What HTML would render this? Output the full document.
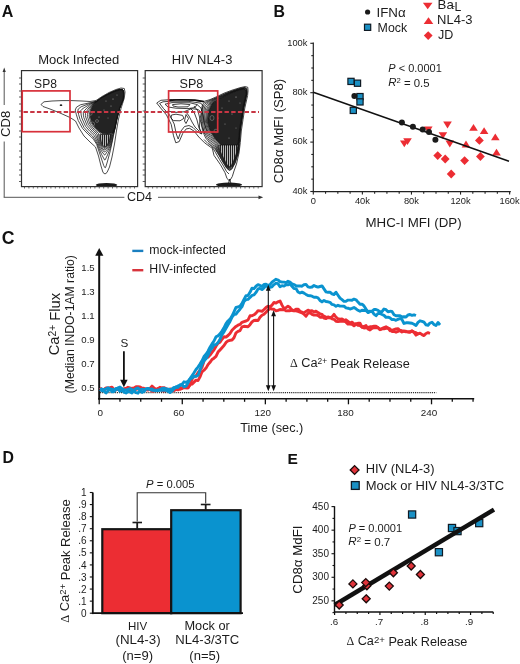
<!DOCTYPE html>
<html><head><meta charset="utf-8"><style>
html,body{margin:0;padding:0;background:#fff;}
svg{display:block;font-family:"Liberation Sans", sans-serif;will-change:transform;}
</style></head><body>
<svg width="520" height="664" viewBox="0 0 520 664">
<defs><pattern id="vl" width="2" height="6" patternUnits="userSpaceOnUse"><rect width="2" height="6" fill="#b8b8b8"/><rect width="1" height="6" fill="#1e1e1e"/></pattern></defs>
<rect width="520" height="664" fill="#fff"/>
<path d="M41.0,104.5 L44.0,101.8 L52.0,101.0 L62.0,100.6 L72.0,100.6 L82.0,101.0 L90.0,101.5 L96.0,100.5 L102.0,96.5 L109.0,92.5 L116.0,89.5 L121.0,88.0 L124.3,88.5 L125.0,92.0 L124.3,98.0 L121.0,108.5 L118.3,120.0 L116.3,132.0 L114.5,144.0 L112.0,157.0 L109.5,167.0 L107.0,172.5 L105.0,174.0 L103.0,172.5 L101.0,166.0 L98.5,156.0 L95.5,147.0 L90.0,142.0 L84.0,136.0 L79.0,128.0 L75.5,121.0 L70.0,117.5 L60.0,113.0 L50.0,109.0 L43.0,106.5 Z" fill="none" stroke="#111" stroke-width="0.75"/>
<path d="M104.6,147.5 L107.0,146.0 L107.4,145.5 L109.8,140.0 L110.7,134.8 L110.2,133.8 L112.6,132.5 L114.5,127.8 L116.3,119.2 L118.9,109.0 L122.5,99.8 L123.3,93.8 L122.8,90.9 L122.0,90.2 L119.8,90.2 L115.0,91.6 L108.2,94.5 L102.0,98.0 L98.5,100.5 L92.9,105.2 L90.3,110.0 L89.0,116.0 L91.1,123.2 L95.9,129.5 L100.4,133.2 L100.4,133.5 L99.8,134.5 L99.9,138.8 L101.6,144.5 L103.9,147.2 L104.6,147.5 Z" fill="none" stroke="#111" stroke-width="0.75"/>
<path d="M104.9,148.5 L107.8,146.0 L110.1,140.2 L111.1,134.0 L112.8,132.7 L114.6,128.0 L116.4,119.2 L119.1,108.8 L122.5,100.0 L123.0,97.8 L123.4,94.0 L123.3,92.5 L122.8,90.6 L122.0,90.0 L119.8,90.0 L114.7,91.5 L108.0,94.5 L100.2,99.0 L92.2,105.2 L89.3,109.5 L87.4,114.2 L87.4,116.5 L89.9,124.0 L95.0,130.4 L98.5,133.4 L99.2,139.2 L101.1,145.0 L103.7,148.2 L104.2,148.6 L104.9,148.5 Z" fill="none" stroke="#111" stroke-width="0.75"/>
<path d="M105.2,149.8 L108.3,146.5 L110.5,140.5 L111.7,134.2 L113.1,132.8 L114.7,128.0 L116.5,119.2 L119.1,109.0 L122.7,99.8 L123.5,93.8 L123.0,90.8 L122.5,90.1 L122.0,89.9 L119.8,89.9 L114.8,91.4 L108.0,94.4 L102.0,97.7 L97.0,101.4 L91.9,104.8 L87.9,109.2 L85.5,113.2 L85.4,115.5 L85.7,117.0 L88.5,124.6 L94.0,131.2 L97.0,133.9 L98.3,139.5 L100.5,145.5 L103.2,149.3 L104.2,149.9 L105.2,149.8 Z" fill="none" stroke="#111" stroke-width="0.75"/>
<path d="M105.1,151.8 L106.5,150.3 L108.5,147.6 L109.1,146.5 L111.0,140.5 L112.2,134.5 L113.3,133.0 L114.9,128.0 L116.7,119.2 L119.3,108.8 L122.8,99.9 L123.6,93.8 L123.3,91.2 L122.8,90.2 L122.2,89.8 L119.8,89.8 L114.7,91.2 L109.5,93.5 L102.8,97.2 L100.2,98.8 L97.0,101.3 L91.1,104.5 L86.1,108.8 L83.3,112.0 L83.4,115.2 L83.8,117.5 L87.1,125.5 L92.9,132.2 L95.5,134.5 L100.1,146.5 L103.0,150.8 L104.2,151.8 L105.1,151.8 Z" fill="none" stroke="#111" stroke-width="0.75"/>
<path d="M105.1,154.8 L108.1,150.2 L109.8,146.8 L111.6,140.5 L112.6,135.0 L113.6,133.0 L115.0,128.0 L116.7,119.5 L119.4,108.8 L122.8,100.0 L123.7,93.8 L123.4,91.2 L123.0,90.2 L122.2,89.6 L119.8,89.6 L117.5,90.1 L109.5,93.4 L102.0,97.5 L96.8,101.3 L91.0,103.7 L84.2,107.7 L82.0,109.2 L80.7,110.8 L81.2,115.0 L81.8,118.0 L85.5,126.3 L90.0,131.4 L94.2,135.5 L98.0,143.3 L99.2,146.8 L101.6,151.2 L104.2,154.7 L104.8,155.0 L105.1,154.8 Z" fill="none" stroke="#111" stroke-width="0.75"/>
<path d="M105.2,159.8 L107.5,155.0 L110.3,148.0 L112.2,140.5 L113.0,135.8 L115.1,128.0 L116.8,119.5 L119.4,109.0 L122.9,100.0 L123.6,96.0 L123.8,92.0 L123.1,90.2 L122.2,89.4 L119.8,89.5 L117.5,89.9 L110.8,92.6 L102.0,97.4 L96.8,101.2 L89.5,103.5 L81.1,106.8 L78.5,108.8 L77.9,110.0 L78.6,114.5 L80.0,119.2 L84.0,127.5 L88.8,132.8 L92.4,136.0 L94.4,138.8 L97.3,144.0 L98.5,147.5 L101.6,154.5 L104.5,159.8 L104.8,160.0 L105.2,159.8 Z" fill="none" stroke="#111" stroke-width="0.75"/>
<path d="M105.3,167.8 L105.7,167.2 L107.3,162.0 L110.3,150.8 L116.9,119.5 L119.5,109.1 L123.1,99.8 L123.7,96.0 L123.9,92.0 L123.1,90.0 L122.2,89.2 L117.5,89.8 L110.5,92.6 L102.8,96.9 L96.8,101.0 L90.2,102.7 L80.4,104.8 L76.5,107.2 L75.2,110.0 L76.4,114.8 L78.2,120.5 L82.6,128.5 L87.9,134.0 L91.3,137.0 L93.4,139.2 L96.6,144.2 L103.7,165.5 L104.8,167.6 L105.0,167.8 L105.3,167.8 Z" fill="none" stroke="#111" stroke-width="0.75"/>
<path d="M93.0,105.5 L100.0,98.8 L108.0,94.5 L115.0,91.5 L120.0,90.0 L122.8,90.3 L123.6,94.0 L122.8,100.0 L119.5,108.0 L116.5,119.0 L114.5,128.0 L112.5,132.5 L108.0,134.0 L102.0,133.5 L96.5,129.0 L92.0,123.0 L90.0,116.0 L91.0,110.0 Z" fill="#232323" stroke="#111" stroke-width="0.75" stroke-linejoin="round"/>
<path d="M100.5,134.5 L110.5,134.5 L109.5,140.0 L107.0,145.5 L104.5,147.0 L102.0,144.5 L100.5,139.0 Z" fill="url(#vl)" stroke="#111" stroke-width="0.75" stroke-linejoin="round"/>
<path d="M156.7,103.0 L160.8,100.3 L172.3,99.5 L189.6,99.8 L203.5,101.5 L210.0,99.6 L216.0,97.0 L224.0,93.2 L232.0,90.2 L240.0,87.7 L245.0,86.6 L247.8,87.3 L248.0,91.0 L247.6,95.5 L244.8,108.0 L243.0,119.5 L241.3,131.0 L240.3,142.5 L239.0,153.0 L236.5,164.0 L234.0,171.0 L232.3,176.5 L229.6,181.0 L227.0,178.5 L225.0,172.7 L220.4,164.6 L214.0,155.4 L212.3,148.3 L210.4,147.0 L204.6,142.8 L198.8,137.0 L194.2,131.2 L189.6,128.3 L186.2,128.9 L182.7,133.5 L179.2,141.6 L175.8,142.8 L173.5,135.8 L171.2,124.3 L166.5,115.0 L160.8,108.2 Z" fill="none" stroke="#111" stroke-width="0.8"/>
<path d="M186.0,114.5 L188.5,118.5 L186.0,123.5 L184.5,121.0 Z" fill="none" stroke="#111" stroke-width="0.8"/>
<path d="M171.5,115.0 L176.0,114.2 L182.5,115.4 L184.0,118.3 L180.0,120.8 L173.5,120.6 L171.0,118.0 Z" fill="none" stroke="#111" stroke-width="0.8"/>
<path d="M168.0,111.2 L176.0,112.4 L184.0,111.8 L191.5,108.6 L198.0,109.5 L200.5,111.5" fill="none" stroke="#111" stroke-width="0.8"/>
<path d="M172.5,104.6 L181.0,103.8 L190.0,104.6 L188.0,106.8 L178.0,107.0 L173.0,106.0 Z" fill="none" stroke="#111" stroke-width="0.8"/>
<path d="M165.0,104.2 L172.0,102.6 L190.0,102.8 L197.0,104.5 L195.0,107.5 L188.0,108.6 L176.0,108.2 L168.0,107.0 Z" fill="none" stroke="#111" stroke-width="0.8"/>
<path d="M159.6,103.4 L163.0,101.8 L172.0,101.2 L189.0,101.4 L201.0,103.2 L203.0,106.0 L201.5,112.0 L199.8,120.0 L199.5,128.0 L201.5,134.0 L197.0,131.5 L193.0,127.5 L189.0,125.5 L184.5,126.5 L181.0,131.0 L178.2,139.0 L176.3,134.0 L174.2,124.0 L169.5,114.8 L163.5,108.5 Z" fill="none" stroke="#111" stroke-width="0.8"/>
<path d="M229.1,167.0 L231.0,166.2 L231.4,165.8 L234.1,160.2 L236.7,152.8 L237.9,145.2 L237.4,144.2 L238.4,141.5 L239.4,130.0 L242.4,110.0 L243.1,105.8 L245.8,94.2 L245.8,91.0 L244.0,89.0 L238.0,90.4 L229.5,93.7 L221.3,97.8 L218.2,99.8 L212.5,103.1 L211.8,103.8 L209.1,108.5 L208.1,111.2 L207.2,121.8 L209.4,130.2 L215.2,139.5 L219.3,144.0 L218.6,145.0 L219.3,150.2 L225.8,163.0 L228.2,166.9 L228.5,167.1 L229.1,167.0 Z" fill="none" stroke="#111" stroke-width="0.75"/>
<path d="M229.8,167.2 L231.2,166.4 L232.3,164.5 L234.4,160.2 L236.9,153.0 L238.2,145.2 L237.7,144.2 L238.6,141.5 L239.6,130.2 L242.6,110.0 L243.3,105.8 L246.0,94.2 L246.0,90.9 L245.2,89.8 L244.0,88.8 L237.9,90.2 L229.5,93.4 L221.2,97.4 L218.0,99.5 L212.2,102.8 L211.3,103.5 L208.4,107.8 L207.2,111.0 L206.4,122.0 L208.5,130.5 L210.8,134.5 L214.4,140.0 L217.8,143.8 L217.8,145.0 L218.8,150.2 L225.4,163.0 L228.1,167.2 L228.8,167.5 L229.8,167.2 Z" fill="none" stroke="#111" stroke-width="0.75"/>
<path d="M229.9,167.8 L231.7,166.5 L233.9,162.2 L237.2,153.0 L238.4,145.2 L238.1,144.0 L238.7,141.8 L239.7,130.5 L242.7,110.2 L243.5,105.8 L246.2,94.2 L246.2,90.8 L245.4,89.5 L244.2,88.6 L237.8,90.1 L229.5,93.2 L221.0,97.1 L211.8,102.3 L210.9,103.0 L207.5,107.0 L206.3,110.5 L205.5,122.0 L207.6,131.0 L209.8,135.0 L211.3,137.2 L213.8,140.8 L216.6,144.0 L218.4,150.5 L225.2,163.2 L228.0,167.6 L228.8,167.9 L229.9,167.8 Z" fill="none" stroke="#111" stroke-width="0.75"/>
<path d="M230.2,168.2 L231.9,166.8 L234.2,162.5 L237.5,153.0 L238.6,145.2 L238.4,143.8 L238.9,141.8 L239.8,130.8 L240.9,123.8 L243.4,107.5 L246.3,94.5 L246.3,90.5 L245.7,89.2 L244.5,88.3 L242.0,88.7 L237.8,89.8 L229.5,92.8 L222.5,96.0 L211.2,101.9 L206.5,106.2 L205.8,107.5 L205.2,110.2 L204.7,116.0 L204.6,122.2 L206.0,129.8 L206.6,131.5 L209.0,136.0 L212.8,141.2 L215.4,144.2 L217.9,150.8 L224.8,163.2 L227.4,167.5 L228.8,168.4 L230.2,168.2 Z" fill="none" stroke="#111" stroke-width="0.75"/>
<path d="M230.0,169.0 L231.0,168.5 L232.0,167.4 L234.6,162.5 L237.8,153.0 L238.9,145.2 L238.8,143.8 L239.4,139.5 L240.0,130.8 L241.0,123.8 L243.5,107.8 L246.5,94.5 L246.7,91.2 L246.3,89.5 L246.0,88.9 L244.5,88.0 L240.6,88.8 L237.2,89.7 L229.5,92.5 L222.5,95.5 L210.6,101.5 L205.4,105.2 L204.6,107.0 L204.0,110.0 L203.4,121.0 L204.8,130.0 L205.6,132.0 L207.8,136.5 L212.0,142.1 L214.2,144.5 L215.8,147.2 L217.3,150.8 L224.5,163.5 L227.1,167.8 L228.5,168.8 L229.5,169.1 L230.0,169.0 Z" fill="none" stroke="#111" stroke-width="0.75"/>
<path d="M230.0,169.8 L231.8,168.6 L235.0,162.8 L238.2,153.0 L239.1,145.2 L239.0,143.5 L239.6,139.5 L240.2,131.0 L241.2,124.0 L243.7,107.8 L246.6,94.8 L246.8,93.0 L246.8,90.8 L246.5,88.8 L244.8,87.8 L240.5,88.5 L237.2,89.5 L229.8,92.1 L222.5,95.1 L210.2,100.9 L204.8,103.8 L204.2,104.5 L203.1,107.0 L202.5,113.0 L202.3,121.0 L203.6,130.2 L204.3,132.2 L206.7,137.2 L211.0,142.8 L213.0,144.9 L215.1,148.0 L223.0,161.8 L226.8,167.9 L228.2,169.3 L229.5,169.9 L230.0,169.8 Z" fill="none" stroke="#111" stroke-width="0.75"/>
<path d="M230.1,170.2 L231.9,169.0 L235.2,163.0 L238.4,153.0 L239.8,139.5 L240.3,131.0 L240.8,127.5 L243.8,108.0 L247.0,93.0 L246.8,88.5 L245.0,87.6 L244.2,87.6 L240.5,88.3 L231.5,91.2 L224.2,94.0 L215.0,98.3 L204.0,102.8 L203.2,103.5 L202.0,106.3 L201.4,112.8 L201.4,121.5 L202.5,130.8 L204.8,136.1 L205.7,138.0 L210.1,143.5 L214.6,148.5 L219.1,155.5 L222.8,162.0 L226.6,168.2 L229.2,170.4 L230.1,170.2 Z" fill="none" stroke="#111" stroke-width="0.75"/>
<path d="M212.3,103.6 L218.0,100.2 L221.5,97.8 L229.6,93.8 L238.0,90.5 L244.0,89.0 L245.8,91.0 L245.8,94.4 L242.9,107.0 L241.2,118.6 L239.4,130.2 L238.3,141.7 L236.5,146.0 L222.0,146.0 L215.8,139.4 L210.0,130.2 L207.7,122.0 L208.8,110.5 Z" fill="#232323" stroke="#111" stroke-width="0.75" stroke-linejoin="round"/>
<path d="M219.0,145.0 L238.0,145.0 L236.5,153.0 L234.0,160.0 L231.0,166.0 L228.5,167.0 L226.0,163.0 L222.5,156.0 L219.5,150.0 Z" fill="url(#vl)" stroke="#111" stroke-width="0.75" stroke-linejoin="round"/>
<path d="M190,108 L194,112 L197,120 L199,128 L202,134" fill="none" stroke="#111" stroke-width="0.8"/>
<path d="M194,106 L198,111 L200,119 L202,127 L205,134" fill="none" stroke="#111" stroke-width="0.8"/>
<path d="M186,112 L189,116 L192,122 L195,127 L199,131" fill="none" stroke="#111" stroke-width="0.8"/>
<path d="M197,104.5 L201,108 L203,115 L204.5,124 L207,131" fill="none" stroke="#111" stroke-width="0.8"/>
<path d="M204,139.5 L208,143.5 L212,146.5 L215.5,152.5 L219.5,159.5 L223.5,166 L226.5,171.5 L229,174" fill="none" stroke="#111" stroke-width="0.8"/>
<path d="M168,100.4 L180,99.8 L195,100.1 L204,101.6" fill="none" stroke="#111" stroke-width="1.6"/>
<ellipse cx="106.5" cy="185.0" rx="10.8" ry="2.0" fill="#1b1b1b"/>
<ellipse cx="229" cy="184.8" rx="13" ry="2.2" fill="#1b1b1b"/>
<ellipse cx="61" cy="105.2" rx="1.3" ry="0.9" fill="#222"/>
<ellipse cx="113" cy="99" rx="0.8" ry="0.6" fill="#8a8a8a"/>
<ellipse cx="106" cy="101" rx="0.6" ry="0.5" fill="#8a8a8a"/>
<ellipse cx="111" cy="106" rx="0.7" ry="0.5" fill="#8a8a8a"/>
<ellipse cx="117" cy="95" rx="0.6" ry="0.5" fill="#8a8a8a"/>
<ellipse cx="104" cy="110" rx="0.6" ry="0.6" fill="#8a8a8a"/>
<ellipse cx="99" cy="117" rx="0.7" ry="0.6" fill="#8a8a8a"/>
<ellipse cx="108" cy="118" rx="0.5" ry="0.5" fill="#8a8a8a"/>
<ellipse cx="236" cy="97" rx="0.8" ry="0.6" fill="#8a8a8a"/>
<ellipse cx="229" cy="101" rx="0.6" ry="0.5" fill="#8a8a8a"/>
<ellipse cx="240" cy="103" rx="0.6" ry="0.5" fill="#8a8a8a"/>
<ellipse cx="222" cy="108" rx="0.6" ry="0.5" fill="#8a8a8a"/>
<ellipse cx="232" cy="114" rx="0.7" ry="0.5" fill="#8a8a8a"/>
<ellipse cx="225" cy="124" rx="0.6" ry="0.6" fill="#8a8a8a"/>
<ellipse cx="236" cy="128" rx="0.5" ry="0.5" fill="#8a8a8a"/>
<ellipse cx="218" cy="118" rx="0.6" ry="0.5" fill="#8a8a8a"/>
<ellipse cx="229" cy="138" rx="0.6" ry="0.6" fill="#8a8a8a"/>
<ellipse cx="92.5" cy="124" rx="2.2" ry="2.0" fill="none" stroke="#777" stroke-width="0.7"/>
<ellipse cx="90.5" cy="113.5" rx="1.6" ry="1.8" fill="none" stroke="#777" stroke-width="0.7"/>
<ellipse cx="97" cy="121" rx="1.5" ry="1.4" fill="none" stroke="#777" stroke-width="0.7"/>
<ellipse cx="212" cy="118" rx="2" ry="2.5" fill="none" stroke="#777" stroke-width="0.7"/>
<ellipse cx="216" cy="131" rx="2" ry="1.8" fill="none" stroke="#777" stroke-width="0.7"/>
<path d="M229.6,179 L228.5,183.5 M229.6,179 L231,183.5" stroke="#111" stroke-width="0.8" fill="none"/>
<rect x="21.5" y="70.6" width="116.1" height="116" fill="none" stroke="#303030" stroke-width="1.2"/>
<line x1="19.0" y1="78" x2="21.5" y2="78" stroke="#333" stroke-width="0.8"/>
<line x1="19.0" y1="84" x2="21.5" y2="84" stroke="#333" stroke-width="0.8"/>
<line x1="19.0" y1="91" x2="21.5" y2="91" stroke="#333" stroke-width="0.8"/>
<line x1="19.0" y1="97" x2="21.5" y2="97" stroke="#333" stroke-width="0.8"/>
<line x1="19.0" y1="104" x2="21.5" y2="104" stroke="#333" stroke-width="0.8"/>
<line x1="19.0" y1="111" x2="21.5" y2="111" stroke="#333" stroke-width="0.8"/>
<line x1="19.0" y1="117" x2="21.5" y2="117" stroke="#333" stroke-width="0.8"/>
<line x1="19.0" y1="124" x2="21.5" y2="124" stroke="#333" stroke-width="0.8"/>
<line x1="19.0" y1="131" x2="21.5" y2="131" stroke="#333" stroke-width="0.8"/>
<line x1="19.0" y1="137" x2="21.5" y2="137" stroke="#333" stroke-width="0.8"/>
<line x1="19.0" y1="144" x2="21.5" y2="144" stroke="#333" stroke-width="0.8"/>
<line x1="19.0" y1="151" x2="21.5" y2="151" stroke="#333" stroke-width="0.8"/>
<line x1="19.0" y1="157" x2="21.5" y2="157" stroke="#333" stroke-width="0.8"/>
<line x1="19.0" y1="164" x2="21.5" y2="164" stroke="#333" stroke-width="0.8"/>
<line x1="19.0" y1="170" x2="21.5" y2="170" stroke="#333" stroke-width="0.8"/>
<line x1="19.0" y1="175" x2="21.5" y2="175" stroke="#333" stroke-width="0.8"/>
<line x1="19.0" y1="181.5" x2="21.5" y2="181.5" stroke="#333" stroke-width="0.8"/>
<line x1="24.5" y1="186.6" x2="24.5" y2="188.5" stroke="#444" stroke-width="0.8"/>
<line x1="28.9" y1="186.6" x2="28.9" y2="188.5" stroke="#444" stroke-width="0.8"/>
<line x1="33.3" y1="186.6" x2="33.3" y2="188.5" stroke="#444" stroke-width="0.8"/>
<line x1="37.7" y1="186.6" x2="37.7" y2="188.5" stroke="#444" stroke-width="0.8"/>
<line x1="42.1" y1="186.6" x2="42.1" y2="188.5" stroke="#444" stroke-width="0.8"/>
<line x1="46.5" y1="186.6" x2="46.5" y2="188.5" stroke="#444" stroke-width="0.8"/>
<line x1="50.900000000000006" y1="186.6" x2="50.900000000000006" y2="188.5" stroke="#444" stroke-width="0.8"/>
<line x1="55.300000000000004" y1="186.6" x2="55.300000000000004" y2="188.5" stroke="#444" stroke-width="0.8"/>
<line x1="59.7" y1="186.6" x2="59.7" y2="188.5" stroke="#444" stroke-width="0.8"/>
<line x1="64.1" y1="186.6" x2="64.1" y2="188.5" stroke="#444" stroke-width="0.8"/>
<line x1="68.5" y1="186.6" x2="68.5" y2="188.5" stroke="#444" stroke-width="0.8"/>
<line x1="72.9" y1="186.6" x2="72.9" y2="188.5" stroke="#444" stroke-width="0.8"/>
<line x1="77.30000000000001" y1="186.6" x2="77.30000000000001" y2="188.5" stroke="#444" stroke-width="0.8"/>
<line x1="81.7" y1="186.6" x2="81.7" y2="188.5" stroke="#444" stroke-width="0.8"/>
<line x1="86.10000000000001" y1="186.6" x2="86.10000000000001" y2="188.5" stroke="#444" stroke-width="0.8"/>
<line x1="90.5" y1="186.6" x2="90.5" y2="188.5" stroke="#444" stroke-width="0.8"/>
<line x1="94.9" y1="186.6" x2="94.9" y2="188.5" stroke="#444" stroke-width="0.8"/>
<line x1="99.30000000000001" y1="186.6" x2="99.30000000000001" y2="188.5" stroke="#444" stroke-width="0.8"/>
<line x1="103.7" y1="186.6" x2="103.7" y2="188.5" stroke="#444" stroke-width="0.8"/>
<line x1="108.10000000000001" y1="186.6" x2="108.10000000000001" y2="188.5" stroke="#444" stroke-width="0.8"/>
<line x1="112.5" y1="186.6" x2="112.5" y2="188.5" stroke="#444" stroke-width="0.8"/>
<line x1="116.9" y1="186.6" x2="116.9" y2="188.5" stroke="#444" stroke-width="0.8"/>
<line x1="121.30000000000001" y1="186.6" x2="121.30000000000001" y2="188.5" stroke="#444" stroke-width="0.8"/>
<line x1="125.7" y1="186.6" x2="125.7" y2="188.5" stroke="#444" stroke-width="0.8"/>
<line x1="130.10000000000002" y1="186.6" x2="130.10000000000002" y2="188.5" stroke="#444" stroke-width="0.8"/>
<line x1="134.5" y1="186.6" x2="134.5" y2="188.5" stroke="#444" stroke-width="0.8"/>
<rect x="145.2" y="70.6" width="116.90000000000003" height="116" fill="none" stroke="#303030" stroke-width="1.2"/>
<line x1="142.7" y1="78" x2="145.2" y2="78" stroke="#333" stroke-width="0.8"/>
<line x1="142.7" y1="84" x2="145.2" y2="84" stroke="#333" stroke-width="0.8"/>
<line x1="142.7" y1="91" x2="145.2" y2="91" stroke="#333" stroke-width="0.8"/>
<line x1="142.7" y1="97" x2="145.2" y2="97" stroke="#333" stroke-width="0.8"/>
<line x1="142.7" y1="104" x2="145.2" y2="104" stroke="#333" stroke-width="0.8"/>
<line x1="142.7" y1="111" x2="145.2" y2="111" stroke="#333" stroke-width="0.8"/>
<line x1="142.7" y1="117" x2="145.2" y2="117" stroke="#333" stroke-width="0.8"/>
<line x1="142.7" y1="124" x2="145.2" y2="124" stroke="#333" stroke-width="0.8"/>
<line x1="142.7" y1="131" x2="145.2" y2="131" stroke="#333" stroke-width="0.8"/>
<line x1="142.7" y1="137" x2="145.2" y2="137" stroke="#333" stroke-width="0.8"/>
<line x1="142.7" y1="144" x2="145.2" y2="144" stroke="#333" stroke-width="0.8"/>
<line x1="142.7" y1="151" x2="145.2" y2="151" stroke="#333" stroke-width="0.8"/>
<line x1="142.7" y1="157" x2="145.2" y2="157" stroke="#333" stroke-width="0.8"/>
<line x1="142.7" y1="164" x2="145.2" y2="164" stroke="#333" stroke-width="0.8"/>
<line x1="142.7" y1="170" x2="145.2" y2="170" stroke="#333" stroke-width="0.8"/>
<line x1="142.7" y1="175" x2="145.2" y2="175" stroke="#333" stroke-width="0.8"/>
<line x1="142.7" y1="181.5" x2="145.2" y2="181.5" stroke="#333" stroke-width="0.8"/>
<line x1="148.2" y1="186.6" x2="148.2" y2="188.5" stroke="#444" stroke-width="0.8"/>
<line x1="152.6" y1="186.6" x2="152.6" y2="188.5" stroke="#444" stroke-width="0.8"/>
<line x1="157.0" y1="186.6" x2="157.0" y2="188.5" stroke="#444" stroke-width="0.8"/>
<line x1="161.39999999999998" y1="186.6" x2="161.39999999999998" y2="188.5" stroke="#444" stroke-width="0.8"/>
<line x1="165.79999999999998" y1="186.6" x2="165.79999999999998" y2="188.5" stroke="#444" stroke-width="0.8"/>
<line x1="170.2" y1="186.6" x2="170.2" y2="188.5" stroke="#444" stroke-width="0.8"/>
<line x1="174.6" y1="186.6" x2="174.6" y2="188.5" stroke="#444" stroke-width="0.8"/>
<line x1="179.0" y1="186.6" x2="179.0" y2="188.5" stroke="#444" stroke-width="0.8"/>
<line x1="183.39999999999998" y1="186.6" x2="183.39999999999998" y2="188.5" stroke="#444" stroke-width="0.8"/>
<line x1="187.79999999999998" y1="186.6" x2="187.79999999999998" y2="188.5" stroke="#444" stroke-width="0.8"/>
<line x1="192.2" y1="186.6" x2="192.2" y2="188.5" stroke="#444" stroke-width="0.8"/>
<line x1="196.6" y1="186.6" x2="196.6" y2="188.5" stroke="#444" stroke-width="0.8"/>
<line x1="201.0" y1="186.6" x2="201.0" y2="188.5" stroke="#444" stroke-width="0.8"/>
<line x1="205.39999999999998" y1="186.6" x2="205.39999999999998" y2="188.5" stroke="#444" stroke-width="0.8"/>
<line x1="209.8" y1="186.6" x2="209.8" y2="188.5" stroke="#444" stroke-width="0.8"/>
<line x1="214.2" y1="186.6" x2="214.2" y2="188.5" stroke="#444" stroke-width="0.8"/>
<line x1="218.6" y1="186.6" x2="218.6" y2="188.5" stroke="#444" stroke-width="0.8"/>
<line x1="223.0" y1="186.6" x2="223.0" y2="188.5" stroke="#444" stroke-width="0.8"/>
<line x1="227.39999999999998" y1="186.6" x2="227.39999999999998" y2="188.5" stroke="#444" stroke-width="0.8"/>
<line x1="231.8" y1="186.6" x2="231.8" y2="188.5" stroke="#444" stroke-width="0.8"/>
<line x1="236.2" y1="186.6" x2="236.2" y2="188.5" stroke="#444" stroke-width="0.8"/>
<line x1="240.6" y1="186.6" x2="240.6" y2="188.5" stroke="#444" stroke-width="0.8"/>
<line x1="245.0" y1="186.6" x2="245.0" y2="188.5" stroke="#444" stroke-width="0.8"/>
<line x1="249.39999999999998" y1="186.6" x2="249.39999999999998" y2="188.5" stroke="#444" stroke-width="0.8"/>
<line x1="253.8" y1="186.6" x2="253.8" y2="188.5" stroke="#444" stroke-width="0.8"/>
<line x1="258.2" y1="186.6" x2="258.2" y2="188.5" stroke="#444" stroke-width="0.8"/>
<rect x="22.2" y="90.9" width="47.8" height="40.8" fill="none" stroke="#d8303a" stroke-width="1.7"/>
<rect x="168.6" y="90.9" width="49.1" height="41.1" fill="none" stroke="#d8303a" stroke-width="1.7"/>
<line x1="23.5" y1="112" x2="259" y2="112" stroke="#c83644" stroke-width="1.8" stroke-dasharray="4.4 2.3"/>
<line x1="4.2" y1="70.5" x2="4.2" y2="105" stroke="#555" stroke-width="1"/>
<line x1="4.2" y1="141.5" x2="4.2" y2="197.3" stroke="#555" stroke-width="1"/>
<path d="M4.2,67.5 L2.6,72.0 L5.8,72.0 Z" fill="#333" stroke="none" stroke-width="1"/>
<line x1="3.7" y1="197.3" x2="124.4" y2="197.3" stroke="#555" stroke-width="1"/>
<line x1="158" y1="197.3" x2="259.5" y2="197.3" stroke="#555" stroke-width="1"/>
<path d="M263.2,197.3 L258.5,195.4 L258.5,199.2 Z" fill="#333" stroke="none" stroke-width="1"/>
<circle cx="367.6" cy="12" r="2.6" fill="#1a1a1a"/>
<rect x="364.5" y="24.2" width="6.2" height="6.2" fill="#1a90c4" stroke="#0f1a24" stroke-width="1.2"/>
<path d="M422.9,2.7 L432.5,2.7 L427.7,9.3 Z" fill="#ec2d33" stroke="none" stroke-width="0"/>
<path d="M423.7,23.9 L433.3,23.9 L428.5,17.3 Z" fill="#ec2d33" stroke="none" stroke-width="0"/>
<path d="M428.2,31.2 L432.6,35.6 L428.2,40.0 L423.8,35.6 Z" fill="#ec2d33" stroke="none" stroke-width="0"/>
<line x1="313.3" y1="42.5" x2="313.3" y2="192.1" stroke="#222" stroke-width="1.2"/>
<line x1="312.8" y1="191.6" x2="510.8" y2="191.6" stroke="#222" stroke-width="1.2"/>
<line x1="310.3" y1="43.3" x2="313.3" y2="43.3" stroke="#222" stroke-width="1.1"/>
<line x1="311.3" y1="55.65" x2="313.3" y2="55.65" stroke="#222" stroke-width="1.1"/>
<line x1="311.3" y1="68.0" x2="313.3" y2="68.0" stroke="#222" stroke-width="1.1"/>
<line x1="311.3" y1="80.35" x2="313.3" y2="80.35" stroke="#222" stroke-width="1.1"/>
<line x1="310.3" y1="92.69999999999999" x2="313.3" y2="92.69999999999999" stroke="#222" stroke-width="1.1"/>
<line x1="311.3" y1="105.05" x2="313.3" y2="105.05" stroke="#222" stroke-width="1.1"/>
<line x1="311.3" y1="117.39999999999999" x2="313.3" y2="117.39999999999999" stroke="#222" stroke-width="1.1"/>
<line x1="311.3" y1="129.75" x2="313.3" y2="129.75" stroke="#222" stroke-width="1.1"/>
<line x1="310.3" y1="142.1" x2="313.3" y2="142.1" stroke="#222" stroke-width="1.1"/>
<line x1="311.3" y1="154.45" x2="313.3" y2="154.45" stroke="#222" stroke-width="1.1"/>
<line x1="311.3" y1="166.8" x2="313.3" y2="166.8" stroke="#222" stroke-width="1.1"/>
<line x1="311.3" y1="179.14999999999998" x2="313.3" y2="179.14999999999998" stroke="#222" stroke-width="1.1"/>
<line x1="310.3" y1="191.5" x2="313.3" y2="191.5" stroke="#222" stroke-width="1.1"/>
<text x="307.4" y="45.599999999999994" font-size="9.3" text-anchor="end" fill="#1c1c1c">100k</text>
<text x="307.4" y="95.0" font-size="9.3" text-anchor="end" fill="#1c1c1c">80k</text>
<text x="307.4" y="144.4" font-size="9.3" text-anchor="end" fill="#1c1c1c">60k</text>
<text x="307.4" y="193.8" font-size="9.3" text-anchor="end" fill="#1c1c1c">40k</text>
<line x1="313.3" y1="191.6" x2="313.3" y2="194.6" stroke="#222" stroke-width="1.1"/>
<line x1="325.57" y1="191.6" x2="325.57" y2="193.79999999999998" stroke="#222" stroke-width="1.1"/>
<line x1="337.84000000000003" y1="191.6" x2="337.84000000000003" y2="193.79999999999998" stroke="#222" stroke-width="1.1"/>
<line x1="350.11" y1="191.6" x2="350.11" y2="193.79999999999998" stroke="#222" stroke-width="1.1"/>
<line x1="362.38" y1="191.6" x2="362.38" y2="194.6" stroke="#222" stroke-width="1.1"/>
<line x1="374.65" y1="191.6" x2="374.65" y2="193.79999999999998" stroke="#222" stroke-width="1.1"/>
<line x1="386.92" y1="191.6" x2="386.92" y2="193.79999999999998" stroke="#222" stroke-width="1.1"/>
<line x1="399.19" y1="191.6" x2="399.19" y2="193.79999999999998" stroke="#222" stroke-width="1.1"/>
<line x1="411.46000000000004" y1="191.6" x2="411.46000000000004" y2="194.6" stroke="#222" stroke-width="1.1"/>
<line x1="423.73" y1="191.6" x2="423.73" y2="193.79999999999998" stroke="#222" stroke-width="1.1"/>
<line x1="436.0" y1="191.6" x2="436.0" y2="193.79999999999998" stroke="#222" stroke-width="1.1"/>
<line x1="448.27" y1="191.6" x2="448.27" y2="193.79999999999998" stroke="#222" stroke-width="1.1"/>
<line x1="460.54" y1="191.6" x2="460.54" y2="194.6" stroke="#222" stroke-width="1.1"/>
<line x1="472.81" y1="191.6" x2="472.81" y2="193.79999999999998" stroke="#222" stroke-width="1.1"/>
<line x1="485.08000000000004" y1="191.6" x2="485.08000000000004" y2="193.79999999999998" stroke="#222" stroke-width="1.1"/>
<line x1="497.35" y1="191.6" x2="497.35" y2="193.79999999999998" stroke="#222" stroke-width="1.1"/>
<line x1="509.62" y1="191.6" x2="509.62" y2="194.6" stroke="#222" stroke-width="1.1"/>
<text x="313.3" y="204.2" font-size="9.3" text-anchor="middle" fill="#1c1c1c">0</text>
<text x="362.38" y="204.2" font-size="9.3" text-anchor="middle" fill="#1c1c1c">40k</text>
<text x="411.46000000000004" y="204.2" font-size="9.3" text-anchor="middle" fill="#1c1c1c">80k</text>
<text x="460.54" y="204.2" font-size="9.3" text-anchor="middle" fill="#1c1c1c">120k</text>
<text x="509.62" y="204.2" font-size="9.3" text-anchor="middle" fill="#1c1c1c">160k</text>
<path d="M443.2,121.6 L451.8,121.6 L447.5,128.4 Z" fill="#ec2d33" stroke="none" stroke-width="0"/>
<path d="M438.6,132.2 L447.2,132.2 L442.9,139.0 Z" fill="#ec2d33" stroke="none" stroke-width="0"/>
<path d="M445.5,140.6 L454.1,140.6 L449.8,147.4 Z" fill="#ec2d33" stroke="none" stroke-width="0"/>
<path d="M400.0,140.4 L408.6,140.4 L404.3,147.2 Z" fill="#ec2d33" stroke="none" stroke-width="0"/>
<path d="M403.2,138.2 L411.8,138.2 L407.5,145.0 Z" fill="#ec2d33" stroke="none" stroke-width="0"/>
<path d="M424.0,126.4 L432.6,126.4 L428.3,133.2 Z" fill="#ec2d33" stroke="none" stroke-width="0"/>
<path d="M469.2,130.8 L477.8,130.8 L473.5,124.0 Z" fill="#ec2d33" stroke="none" stroke-width="0"/>
<path d="M479.8,134.0 L488.4,134.0 L484.1,127.2 Z" fill="#ec2d33" stroke="none" stroke-width="0"/>
<path d="M491.0,140.3 L499.6,140.3 L495.3,133.5 Z" fill="#ec2d33" stroke="none" stroke-width="0"/>
<path d="M461.7,147.4 L470.3,147.4 L466.0,140.6 Z" fill="#ec2d33" stroke="none" stroke-width="0"/>
<path d="M492.2,155.6 L500.8,155.6 L496.5,148.8 Z" fill="#ec2d33" stroke="none" stroke-width="0"/>
<path d="M479.4,136.0 L483.8,140.4 L479.4,144.8 L475.0,140.4 Z" fill="#ec2d33" stroke="none" stroke-width="0"/>
<path d="M437.7,151.2 L442.1,155.6 L437.7,160.0 L433.3,155.6 Z" fill="#ec2d33" stroke="none" stroke-width="0"/>
<path d="M445.2,154.6 L449.6,159.0 L445.2,163.4 L440.8,159.0 Z" fill="#ec2d33" stroke="none" stroke-width="0"/>
<path d="M464.6,156.2 L469.0,160.6 L464.6,165.0 L460.2,160.6 Z" fill="#ec2d33" stroke="none" stroke-width="0"/>
<path d="M480.4,152.1 L484.8,156.5 L480.4,160.9 L476.0,156.5 Z" fill="#ec2d33" stroke="none" stroke-width="0"/>
<path d="M451.2,169.6 L455.6,174.0 L451.2,178.4 L446.8,174.0 Z" fill="#ec2d33" stroke="none" stroke-width="0"/>
<rect x="347.9" y="78.3" width="6.2" height="6.2" fill="#1a90c4" stroke="#0f1a24" stroke-width="1.2"/>
<rect x="354.4" y="80.1" width="6.2" height="6.2" fill="#1a90c4" stroke="#0f1a24" stroke-width="1.2"/>
<rect x="356.9" y="93.5" width="6.2" height="6.2" fill="#1a90c4" stroke="#0f1a24" stroke-width="1.2"/>
<rect x="356.9" y="98.8" width="6.2" height="6.2" fill="#1a90c4" stroke="#0f1a24" stroke-width="1.2"/>
<rect x="350.2" y="107.3" width="6.2" height="6.2" fill="#1a90c4" stroke="#0f1a24" stroke-width="1.2"/>
<line x1="313.3" y1="92.3" x2="509" y2="161.3" stroke="#111" stroke-width="1.5"/>
<circle cx="401.9" cy="122.5" r="3" fill="#1a1a1a"/>
<circle cx="412.9" cy="126.7" r="3" fill="#1a1a1a"/>
<circle cx="422.7" cy="129.6" r="3" fill="#1a1a1a"/>
<circle cx="429" cy="131.9" r="3" fill="#1a1a1a"/>
<circle cx="435.4" cy="139.8" r="3" fill="#1a1a1a"/>
<circle cx="354.4" cy="96.1" r="3" fill="#1a1a1a"/>
<line x1="99.2" y1="254" x2="99.2" y2="399.6" stroke="#111" stroke-width="2.0"/>
<path d="M99.2,248.0 L95.2,255.8 L103.4,255.8 Z" fill="#111" stroke="none" stroke-width="1"/>
<line x1="98.2" y1="398.8" x2="474.2" y2="398.8" stroke="#111" stroke-width="1.6"/>
<text x="94.7" y="271.0" font-size="9.6" text-anchor="end" fill="#1c1c1c">1.5</text>
<text x="94.7" y="294.9" font-size="9.6" text-anchor="end" fill="#1c1c1c">1.3</text>
<text x="94.7" y="318.8" font-size="9.6" text-anchor="end" fill="#1c1c1c">1.1</text>
<text x="94.7" y="342.7" font-size="9.6" text-anchor="end" fill="#1c1c1c">0.9</text>
<text x="94.7" y="366.6" font-size="9.6" text-anchor="end" fill="#1c1c1c">0.7</text>
<text x="94.7" y="390.5" font-size="9.6" text-anchor="end" fill="#1c1c1c">0.5</text>
<line x1="99.2" y1="398.8" x2="99.2" y2="404.3" stroke="#111" stroke-width="1.3"/>
<line x1="119.97" y1="398.8" x2="119.97" y2="401.8" stroke="#111" stroke-width="1.3"/>
<line x1="140.74" y1="398.8" x2="140.74" y2="401.8" stroke="#111" stroke-width="1.3"/>
<line x1="161.51" y1="398.8" x2="161.51" y2="401.8" stroke="#111" stroke-width="1.3"/>
<line x1="182.28" y1="398.8" x2="182.28" y2="404.3" stroke="#111" stroke-width="1.3"/>
<line x1="203.05" y1="398.8" x2="203.05" y2="401.8" stroke="#111" stroke-width="1.3"/>
<line x1="223.82" y1="398.8" x2="223.82" y2="401.8" stroke="#111" stroke-width="1.3"/>
<line x1="244.58999999999997" y1="398.8" x2="244.58999999999997" y2="401.8" stroke="#111" stroke-width="1.3"/>
<line x1="265.36" y1="398.8" x2="265.36" y2="404.3" stroke="#111" stroke-width="1.3"/>
<line x1="286.13" y1="398.8" x2="286.13" y2="401.8" stroke="#111" stroke-width="1.3"/>
<line x1="306.9" y1="398.8" x2="306.9" y2="401.8" stroke="#111" stroke-width="1.3"/>
<line x1="327.67" y1="398.8" x2="327.67" y2="401.8" stroke="#111" stroke-width="1.3"/>
<line x1="348.44" y1="398.8" x2="348.44" y2="404.3" stroke="#111" stroke-width="1.3"/>
<line x1="369.21" y1="398.8" x2="369.21" y2="401.8" stroke="#111" stroke-width="1.3"/>
<line x1="389.97999999999996" y1="398.8" x2="389.97999999999996" y2="401.8" stroke="#111" stroke-width="1.3"/>
<line x1="410.75" y1="398.8" x2="410.75" y2="401.8" stroke="#111" stroke-width="1.3"/>
<line x1="431.52" y1="398.8" x2="431.52" y2="404.3" stroke="#111" stroke-width="1.3"/>
<line x1="452.28999999999996" y1="398.8" x2="452.28999999999996" y2="401.8" stroke="#111" stroke-width="1.3"/>
<line x1="473.06" y1="398.8" x2="473.06" y2="401.8" stroke="#111" stroke-width="1.3"/>
<text x="100.3" y="415.8" font-size="9.9" text-anchor="middle" fill="#1c1c1c">0</text>
<text x="178.8" y="415.8" font-size="9.9" text-anchor="middle" fill="#1c1c1c">60</text>
<text x="262.7" y="415.8" font-size="9.9" text-anchor="middle" fill="#1c1c1c">120</text>
<text x="345.6" y="415.8" font-size="9.9" text-anchor="middle" fill="#1c1c1c">180</text>
<text x="429.0" y="415.8" font-size="9.9" text-anchor="middle" fill="#1c1c1c">240</text>
<line x1="132.3" y1="250.9" x2="143.3" y2="250.9" stroke="#1a7fc0" stroke-width="2.4"/>
<line x1="132.3" y1="270.2" x2="143.3" y2="270.2" stroke="#d8343c" stroke-width="2.4"/>
<line x1="100" y1="392.6" x2="436.3" y2="392.6" stroke="#333" stroke-width="1.1" stroke-dasharray="1.2 0.9"/>
<path d="M100.0,390.1 L102.0,390.2 L104.0,389.2 L106.0,388.3 L108.0,388.3 L110.0,388.2 L112.0,389.8 L114.0,391.1 L116.0,389.2 L118.0,388.7 L120.0,390.0 L122.0,390.2 L124.0,389.4 L126.0,388.4 L128.0,389.5 L130.0,390.1 L132.0,388.2 L134.0,387.9 L136.0,386.7 L138.0,386.7 L140.0,386.9 L142.0,388.3 L144.0,388.3 L146.0,389.8 L148.0,390.1 L150.0,388.5 L152.0,386.1 L154.0,387.8 L156.0,389.3 L158.0,389.0 L160.0,387.3 L162.0,387.8 L164.0,387.7 L166.0,388.5 L168.0,390.2 L170.0,388.9 L172.0,389.5 L174.0,390.4 L176.0,389.1 L178.0,389.1 L180.0,389.4 L182.0,388.5 L184.0,386.7 L186.0,387.7 L188.0,387.7 L190.0,384.2 L192.0,384.1 L194.0,382.1 L196.0,380.1 L198.0,380.6 L200.0,376.9 L202.0,371.8 L204.0,370.2 L206.0,368.1 L208.0,364.6 L210.0,362.3 L212.0,359.5 L214.0,358.2 L216.0,356.4 L218.0,352.1 L220.0,349.9 L222.0,347.7 L224.0,345.6 L226.0,342.4 L228.0,340.9 L230.0,340.3 L232.0,340.0 L234.0,337.7 L236.0,332.8 L238.0,331.3 L240.0,330.6 L242.0,326.9 L244.0,326.3 L246.0,326.5 L248.0,326.7 L250.0,324.7 L252.0,321.9 L254.0,320.5 L256.0,320.3 L258.0,320.6 L260.0,317.3 L262.0,315.2 L264.0,314.3 L266.0,312.3 L268.0,310.1 L270.0,308.5 L272.0,309.0 L274.0,309.3 L276.0,310.8 L278.0,310.4 L280.0,309.5 L282.0,309.8 L284.0,309.6 L286.0,310.9 L288.0,310.8 L290.0,310.8 L292.0,309.8 L294.0,310.7 L296.0,309.1 L298.0,309.1 L300.0,311.3 L302.0,312.0 L304.0,314.2 L306.0,316.2 L308.0,313.3 L310.0,312.7 L312.0,314.3 L314.0,315.1 L316.0,314.9 L318.0,315.5 L320.0,317.2 L322.0,317.3 L324.0,316.1 L326.0,317.2 L328.0,317.8 L330.0,317.6 L332.0,318.8 L334.0,319.3 L336.0,321.3 L338.0,321.6 L340.0,321.4 L342.0,321.2 L344.0,321.2 L346.0,319.8 L348.0,321.3 L350.0,323.0 L352.0,322.1 L354.0,324.2 L356.0,323.6 L358.0,325.4 L360.0,325.5 L362.0,327.0 L364.0,326.5 L366.0,325.6 L368.0,328.9 L370.0,330.0 L372.0,328.3 L374.0,327.7 L376.0,327.6 L378.0,327.8 L380.0,329.7 L382.0,328.9 L384.0,328.8 L386.0,328.3 L388.0,328.2 L390.0,328.8 L392.0,331.5 L394.0,331.5 L396.0,332.2 L398.0,331.4 L400.0,330.5 L402.0,330.8 L404.0,331.2 L406.0,331.9 L408.0,331.9 L410.0,331.7 L412.0,330.8 L414.0,332.4 L416.0,335.1 L418.0,333.7" fill="none" stroke="#ec2d33" stroke-width="2.9" stroke-linejoin="round"/>
<path d="M100.0,387.8 L102.0,389.7 L104.0,390.5 L106.0,387.9 L108.0,388.1 L110.0,387.7 L112.0,387.2 L114.0,389.6 L116.0,389.8 L118.0,389.3 L120.0,388.7 L122.0,389.5 L124.0,388.9 L126.0,388.5 L128.0,387.3 L130.0,387.8 L132.0,390.2 L134.0,389.2 L136.0,389.2 L138.0,388.9 L140.0,388.2 L142.0,388.4 L144.0,389.5 L146.0,388.9 L148.0,388.9 L150.0,389.7 L152.0,391.2 L154.0,391.0 L156.0,390.0 L158.0,388.3 L160.0,387.9 L162.0,390.5 L164.0,391.1 L166.0,389.9 L168.0,390.3 L170.0,390.9 L172.0,391.0 L174.0,390.4 L176.0,389.4 L178.0,389.8 L180.0,387.4 L182.0,388.1 L184.0,387.8 L186.0,387.7 L188.0,387.8 L190.0,385.0 L192.0,379.2 L194.0,376.2 L196.0,376.1 L198.0,372.7 L200.0,370.3 L202.0,367.3 L204.0,361.0 L206.0,357.4 L208.0,357.2 L210.0,355.1 L212.0,352.3 L214.0,349.8 L216.0,346.2 L218.0,343.3 L220.0,342.2 L222.0,339.2 L224.0,336.8 L226.0,337.1 L228.0,335.5 L230.0,333.4 L232.0,330.2 L234.0,328.3 L236.0,326.4 L238.0,325.2 L240.0,324.4 L242.0,322.3 L244.0,321.6 L246.0,321.0 L248.0,320.0 L250.0,315.8 L252.0,315.8 L254.0,314.8 L256.0,313.1 L258.0,310.8 L260.0,310.9 L262.0,311.3 L264.0,309.5 L266.0,307.5 L268.0,306.1 L270.0,306.9 L272.0,305.1 L274.0,302.5 L276.0,303.1 L278.0,301.8 L280.0,301.0 L282.0,305.1 L284.0,308.6 L286.0,307.7 L288.0,306.2 L290.0,307.5 L292.0,310.5 L294.0,310.7 L296.0,310.8 L298.0,311.4 L300.0,312.2 L302.0,313.0 L304.0,312.7 L306.0,311.4 L308.0,310.1 L310.0,311.0 L312.0,310.8 L314.0,312.0 L316.0,311.1 L318.0,312.6 L320.0,313.8 L322.0,314.3 L324.0,318.1 L326.0,318.6 L328.0,316.9 L330.0,317.7 L332.0,316.8 L334.0,314.3 L336.0,317.2 L338.0,318.8 L340.0,319.1 L342.0,318.9 L344.0,320.3 L346.0,322.1 L348.0,324.1 L350.0,324.0 L352.0,324.4 L354.0,325.8 L356.0,324.3 L358.0,323.3 L360.0,323.3 L362.0,327.1 L364.0,328.0 L366.0,327.8 L368.0,327.4 L370.0,326.8 L372.0,326.6 L374.0,326.2 L376.0,326.3 L378.0,327.5 L380.0,329.3 L382.0,328.6 L384.0,327.5 L386.0,326.8 L388.0,327.9 L390.0,330.7 L392.0,330.4 L394.0,329.6 L396.0,328.9 L398.0,328.6 L400.0,330.5 L402.0,332.0 L404.0,331.2 L406.0,331.3 L408.0,332.0 L410.0,332.2 L412.0,331.1 L414.0,332.1 L416.0,332.7 L418.0,333.9 L420.0,333.1 L422.0,334.6 L424.0,335.6 L426.0,333.5 L428.0,332.7 L430.0,333.5" fill="none" stroke="#ec2d33" stroke-width="2.9" stroke-linejoin="round"/>
<path d="M100.0,389.6 L102.0,389.0 L104.0,391.2 L106.0,393.0 L108.0,390.8 L110.0,389.5 L112.0,389.1 L114.0,389.9 L116.0,388.5 L118.0,389.1 L120.0,391.3 L122.0,390.3 L124.0,392.1 L126.0,393.0 L128.0,391.6 L130.0,391.9 L132.0,392.9 L134.0,390.4 L136.0,388.6 L138.0,388.0 L140.0,390.1 L142.0,392.4 L144.0,391.5 L146.0,388.9 L148.0,388.4 L150.0,389.2 L152.0,390.3 L154.0,390.2 L156.0,390.6 L158.0,390.6 L160.0,390.0 L162.0,390.2 L164.0,390.4 L166.0,390.3 L168.0,391.3 L170.0,392.6 L172.0,391.1 L174.0,388.8 L176.0,386.8 L178.0,387.3 L180.0,384.8 L182.0,384.8 L184.0,387.0 L186.0,386.2 L188.0,382.9 L190.0,379.2 L192.0,378.1 L194.0,376.5 L196.0,376.3 L198.0,375.5 L200.0,370.1 L202.0,364.5 L204.0,360.7 L206.0,358.7 L208.0,355.2 L210.0,350.9 L212.0,348.2 L214.0,345.0 L216.0,344.5 L218.0,342.6 L220.0,339.1 L222.0,334.6 L224.0,331.9 L226.0,328.4 L228.0,324.8 L230.0,321.4 L232.0,317.1 L234.0,314.6 L236.0,314.2 L238.0,311.4 L240.0,309.2 L242.0,306.7 L244.0,301.5 L246.0,299.7 L248.0,299.3 L250.0,297.5 L252.0,295.4 L254.0,294.9 L256.0,292.4 L258.0,289.0 L260.0,288.4 L262.0,289.6 L264.0,287.8 L266.0,285.1 L268.0,287.1 L270.0,287.4 L272.0,286.8 L274.0,284.6 L276.0,283.2 L278.0,283.6 L280.0,286.7 L282.0,285.7 L284.0,286.1 L286.0,284.8 L288.0,284.8 L290.0,284.0 L292.0,286.3 L294.0,288.6 L296.0,288.6 L298.0,292.0 L300.0,293.0 L302.0,292.1 L304.0,293.1 L306.0,294.4 L308.0,295.6 L310.0,295.7 L312.0,296.2 L314.0,297.2 L316.0,297.2 L318.0,297.8 L320.0,300.5 L322.0,301.9 L324.0,300.4 L326.0,301.6 L328.0,301.8 L330.0,302.3 L332.0,304.4 L334.0,304.8 L336.0,306.3 L338.0,305.3 L340.0,306.1 L342.0,306.1 L344.0,306.2 L346.0,307.9 L348.0,308.2 L350.0,309.0 L352.0,308.4 L354.0,307.5 L356.0,308.8 L358.0,310.3 L360.0,311.3 L362.0,310.3 L364.0,310.5 L366.0,310.4 L368.0,312.6 L370.0,311.6 L372.0,311.2 L374.0,314.1 L376.0,315.7 L378.0,313.4 L380.0,313.5 L382.0,314.5 L384.0,315.4 L386.0,317.4 L388.0,317.1 L390.0,317.9 L392.0,319.6 L394.0,319.5 L396.0,320.3 L398.0,319.3 L400.0,318.5 L402.0,319.6 L404.0,323.5 L406.0,322.8 L408.0,322.8 L410.0,323.0 L412.0,323.3 L414.0,324.2 L416.0,325.5 L418.0,322.4 L420.0,320.8 L422.0,321.3 L424.0,322.1 L426.0,324.9 L428.0,325.3 L430.0,323.0 L432.0,322.3 L434.0,324.4 L436.0,325.5 L438.0,322.5 L440.0,325.0" fill="none" stroke="#0a93cf" stroke-width="2.9" stroke-linejoin="round"/>
<path d="M100.0,389.5 L102.0,390.8 L104.0,389.3 L106.0,388.8 L108.0,387.7 L110.0,388.8 L112.0,391.8 L114.0,391.6 L116.0,389.5 L118.0,387.9 L120.0,387.0 L122.0,388.7 L124.0,389.8 L126.0,389.9 L128.0,389.5 L130.0,388.6 L132.0,389.6 L134.0,390.7 L136.0,392.7 L138.0,393.2 L140.0,390.6 L142.0,389.2 L144.0,389.6 L146.0,389.1 L148.0,389.0 L150.0,389.4 L152.0,389.0 L154.0,390.4 L156.0,390.3 L158.0,390.2 L160.0,389.6 L162.0,388.5 L164.0,388.2 L166.0,388.9 L168.0,389.0 L170.0,389.7 L172.0,389.0 L174.0,387.4 L176.0,387.5 L178.0,385.9 L180.0,385.5 L182.0,384.4 L184.0,381.8 L186.0,382.3 L188.0,381.3 L190.0,378.6 L192.0,375.7 L194.0,372.7 L196.0,369.5 L198.0,367.1 L200.0,364.1 L202.0,360.8 L204.0,356.5 L206.0,354.3 L208.0,351.2 L210.0,347.2 L212.0,343.9 L214.0,341.0 L216.0,336.8 L218.0,335.9 L220.0,333.9 L222.0,331.1 L224.0,327.8 L226.0,323.6 L228.0,321.0 L230.0,319.2 L232.0,316.1 L234.0,311.8 L236.0,307.4 L238.0,307.0 L240.0,306.1 L242.0,303.5 L244.0,299.4 L246.0,295.7 L248.0,295.6 L250.0,292.3 L252.0,288.2 L254.0,288.6 L256.0,286.2 L258.0,284.7 L260.0,285.4 L262.0,286.5 L264.0,284.4 L266.0,284.1 L268.0,285.5 L270.0,284.7 L272.0,282.2 L274.0,280.6 L276.0,279.3 L278.0,280.0 L280.0,281.6 L282.0,282.0 L284.0,282.1 L286.0,282.6 L288.0,281.3 L290.0,282.1 L292.0,283.8 L294.0,284.5 L296.0,285.7 L298.0,286.0 L300.0,285.9 L302.0,286.2 L304.0,284.7 L306.0,284.4 L308.0,286.9 L310.0,287.4 L312.0,287.0 L314.0,285.4 L316.0,286.5 L318.0,287.1 L320.0,286.5 L322.0,285.9 L324.0,288.9 L326.0,291.9 L328.0,292.3 L330.0,292.2 L332.0,293.9 L334.0,294.5 L336.0,292.2 L338.0,295.2 L340.0,298.1 L342.0,299.7 L344.0,301.4 L346.0,301.2 L348.0,300.1 L350.0,300.1 L352.0,300.3 L354.0,299.1 L356.0,299.8 L358.0,302.1 L360.0,304.2 L362.0,304.1 L364.0,305.9 L366.0,309.1 L368.0,311.6 L370.0,311.2 L372.0,311.6 L374.0,309.5 L376.0,309.5 L378.0,310.3 L380.0,311.8 L382.0,311.6 L384.0,309.0 L386.0,309.7 L388.0,311.8 L390.0,311.3 L392.0,311.4 L394.0,314.7 L396.0,315.7 L398.0,315.7 L400.0,315.6 L402.0,317.0 L404.0,316.7 L406.0,317.0 L408.0,314.9 L410.0,314.5 L412.0,315.3 L414.0,314.8 L416.0,315.5" fill="none" stroke="#0a93cf" stroke-width="2.9" stroke-linejoin="round"/>
<line x1="123.9" y1="351.2" x2="123.9" y2="381" stroke="#111" stroke-width="1.8"/>
<path d="M123.9,387.3 L120.1,379.8 L127.6,379.8 Z" fill="#111" stroke="none" stroke-width="1"/>
<line x1="268.3" y1="289.7" x2="268.3" y2="386" stroke="#111" stroke-width="1.1"/>
<path d="M268.3,284.7 L265.9,290.7 L270.7,290.7 Z" fill="#111" stroke="none" stroke-width="1"/>
<path d="M268.3,391.3 L265.9,385.3 L270.7,385.3 Z" fill="#111" stroke="none" stroke-width="1"/>
<line x1="273.6" y1="315.2" x2="273.6" y2="386" stroke="#111" stroke-width="1.1"/>
<path d="M273.6,310.2 L271.2,316.2 L276.0,316.2 Z" fill="#111" stroke="none" stroke-width="1"/>
<path d="M273.6,391.3 L271.2,385.3 L276.0,385.3 Z" fill="#111" stroke="none" stroke-width="1"/>
<rect x="102.3" y="529.2" width="68.9" height="84.0" fill="#ec2d33" stroke="#151515" stroke-width="2.2"/>
<rect x="171.2" y="510.2" width="69.4" height="103.00000000000006" fill="#0a93cf" stroke="#151515" stroke-width="2.2"/>
<line x1="137.2" y1="522.5" x2="137.2" y2="529" stroke="#1a1a1a" stroke-width="1.8"/>
<line x1="132.5" y1="522.5" x2="142" y2="522.5" stroke="#1a1a1a" stroke-width="1.6"/>
<line x1="205.7" y1="504.5" x2="205.7" y2="510" stroke="#1a1a1a" stroke-width="1.8"/>
<line x1="200.8" y1="504.5" x2="210.5" y2="504.5" stroke="#1a1a1a" stroke-width="1.6"/>
<polyline points="137.2,521.5 137.2,492.7 205.7,492.7 205.7,503.5" fill="none" stroke="#333" stroke-width="1.1"/>
<line x1="92.8" y1="492.5" x2="92.8" y2="614.1" stroke="#111" stroke-width="1.8"/>
<line x1="91.89999999999999" y1="613.2" x2="243" y2="613.2" stroke="#111" stroke-width="1.8"/>
<line x1="89.8" y1="613.2" x2="92.8" y2="613.2" stroke="#111" stroke-width="1.1"/>
<line x1="89.8" y1="601.13" x2="92.8" y2="601.13" stroke="#111" stroke-width="1.1"/>
<line x1="89.8" y1="589.0600000000001" x2="92.8" y2="589.0600000000001" stroke="#111" stroke-width="1.1"/>
<line x1="89.8" y1="576.99" x2="92.8" y2="576.99" stroke="#111" stroke-width="1.1"/>
<line x1="89.8" y1="564.9200000000001" x2="92.8" y2="564.9200000000001" stroke="#111" stroke-width="1.1"/>
<line x1="89.8" y1="552.85" x2="92.8" y2="552.85" stroke="#111" stroke-width="1.1"/>
<line x1="89.8" y1="540.7800000000001" x2="92.8" y2="540.7800000000001" stroke="#111" stroke-width="1.1"/>
<line x1="89.8" y1="528.71" x2="92.8" y2="528.71" stroke="#111" stroke-width="1.1"/>
<line x1="89.8" y1="516.6400000000001" x2="92.8" y2="516.6400000000001" stroke="#111" stroke-width="1.1"/>
<line x1="89.8" y1="504.57000000000005" x2="92.8" y2="504.57000000000005" stroke="#111" stroke-width="1.1"/>
<line x1="89.8" y1="492.50000000000006" x2="92.8" y2="492.50000000000006" stroke="#111" stroke-width="1.1"/>
<text x="86.6" y="616.8000000000001" font-size="10.0" text-anchor="end" fill="#1c1c1c">0</text>
<text x="86.6" y="604.73" font-size="10.0" text-anchor="end" fill="#1c1c1c">.1</text>
<text x="86.6" y="592.6600000000001" font-size="10.0" text-anchor="end" fill="#1c1c1c">.2</text>
<text x="86.6" y="580.59" font-size="10.0" text-anchor="end" fill="#1c1c1c">.3</text>
<text x="86.6" y="568.5200000000001" font-size="10.0" text-anchor="end" fill="#1c1c1c">.4</text>
<text x="86.6" y="556.45" font-size="10.0" text-anchor="end" fill="#1c1c1c">.5</text>
<text x="86.6" y="544.3800000000001" font-size="10.0" text-anchor="end" fill="#1c1c1c">.6</text>
<text x="86.6" y="532.3100000000001" font-size="10.0" text-anchor="end" fill="#1c1c1c">.7</text>
<text x="86.6" y="520.2400000000001" font-size="10.0" text-anchor="end" fill="#1c1c1c">.8</text>
<text x="86.6" y="508.1700000000001" font-size="10.0" text-anchor="end" fill="#1c1c1c">.9</text>
<text x="86.6" y="496.1000000000001" font-size="10.0" text-anchor="end" fill="#1c1c1c">1</text>
<path d="M354.6,465.6 L359.0,470.0 L354.6,474.4 L350.2,470.0 Z" fill="#e0333a" stroke="#1a0a0a" stroke-width="1.3"/>
<rect x="351.4" y="481.6" width="7.8" height="7.8" fill="#1a90c4" stroke="#0f1a24" stroke-width="1.3"/>
<line x1="334.5" y1="506.2" x2="334.5" y2="612.6" stroke="#111" stroke-width="1.4"/>
<line x1="333.9" y1="612.0" x2="493.3" y2="612.0" stroke="#111" stroke-width="1.4"/>
<line x1="331.5" y1="506.6" x2="334.5" y2="506.6" stroke="#111" stroke-width="1.1"/>
<line x1="332.5" y1="518.38" x2="334.5" y2="518.38" stroke="#111" stroke-width="1.1"/>
<line x1="331.5" y1="530.16" x2="334.5" y2="530.16" stroke="#111" stroke-width="1.1"/>
<line x1="332.5" y1="541.94" x2="334.5" y2="541.94" stroke="#111" stroke-width="1.1"/>
<line x1="331.5" y1="553.72" x2="334.5" y2="553.72" stroke="#111" stroke-width="1.1"/>
<line x1="332.5" y1="565.5" x2="334.5" y2="565.5" stroke="#111" stroke-width="1.1"/>
<line x1="331.5" y1="577.28" x2="334.5" y2="577.28" stroke="#111" stroke-width="1.1"/>
<line x1="332.5" y1="589.0600000000001" x2="334.5" y2="589.0600000000001" stroke="#111" stroke-width="1.1"/>
<line x1="331.5" y1="600.84" x2="334.5" y2="600.84" stroke="#111" stroke-width="1.1"/>
<line x1="332.5" y1="612.62" x2="334.5" y2="612.62" stroke="#111" stroke-width="1.1"/>
<text x="329.0" y="509.6" font-size="10.0" text-anchor="end" fill="#1c1c1c">450</text>
<text x="329.0" y="533.16" font-size="10.0" text-anchor="end" fill="#1c1c1c">400</text>
<text x="329.0" y="556.72" font-size="10.0" text-anchor="end" fill="#1c1c1c">350</text>
<text x="329.0" y="580.28" font-size="10.0" text-anchor="end" fill="#1c1c1c">300</text>
<text x="329.0" y="603.84" font-size="10.0" text-anchor="end" fill="#1c1c1c">250</text>
<line x1="334.6" y1="612.0" x2="334.6" y2="615.0" stroke="#111" stroke-width="1.2"/>
<line x1="345.93" y1="612.0" x2="345.93" y2="614.0" stroke="#111" stroke-width="1.2"/>
<line x1="357.26000000000005" y1="612.0" x2="357.26000000000005" y2="614.0" stroke="#111" stroke-width="1.2"/>
<line x1="368.59000000000003" y1="612.0" x2="368.59000000000003" y2="614.0" stroke="#111" stroke-width="1.2"/>
<line x1="379.92" y1="612.0" x2="379.92" y2="615.0" stroke="#111" stroke-width="1.2"/>
<line x1="391.25" y1="612.0" x2="391.25" y2="614.0" stroke="#111" stroke-width="1.2"/>
<line x1="402.58000000000004" y1="612.0" x2="402.58000000000004" y2="614.0" stroke="#111" stroke-width="1.2"/>
<line x1="413.91" y1="612.0" x2="413.91" y2="614.0" stroke="#111" stroke-width="1.2"/>
<line x1="425.24" y1="612.0" x2="425.24" y2="615.0" stroke="#111" stroke-width="1.2"/>
<line x1="436.57000000000005" y1="612.0" x2="436.57000000000005" y2="614.0" stroke="#111" stroke-width="1.2"/>
<line x1="447.90000000000003" y1="612.0" x2="447.90000000000003" y2="614.0" stroke="#111" stroke-width="1.2"/>
<line x1="459.23" y1="612.0" x2="459.23" y2="614.0" stroke="#111" stroke-width="1.2"/>
<line x1="470.56000000000006" y1="612.0" x2="470.56000000000006" y2="615.0" stroke="#111" stroke-width="1.2"/>
<line x1="481.89" y1="612.0" x2="481.89" y2="614.0" stroke="#111" stroke-width="1.2"/>
<line x1="493.22" y1="612.0" x2="493.22" y2="614.0" stroke="#111" stroke-width="1.2"/>
<text x="334.0" y="624.6" font-size="9.8" text-anchor="middle" fill="#1c1c1c">.6</text>
<text x="379.2" y="624.6" font-size="9.8" text-anchor="middle" fill="#1c1c1c">.7</text>
<text x="424.7" y="624.6" font-size="9.8" text-anchor="middle" fill="#1c1c1c">.8</text>
<text x="469.0" y="624.6" font-size="9.8" text-anchor="middle" fill="#1c1c1c">.9</text>
<rect x="408.5" y="510.9" width="7.2" height="7.2" fill="#1a90c4" stroke="#0f1a24" stroke-width="1.2"/>
<rect x="448.4" y="524.4" width="7.2" height="7.2" fill="#1a90c4" stroke="#0f1a24" stroke-width="1.2"/>
<rect x="453.9" y="527.5" width="7.2" height="7.2" fill="#1a90c4" stroke="#0f1a24" stroke-width="1.2"/>
<rect x="475.6" y="519.5" width="7.2" height="7.2" fill="#1a90c4" stroke="#0f1a24" stroke-width="1.2"/>
<rect x="435.3" y="548.6" width="7.2" height="7.2" fill="#1a90c4" stroke="#0f1a24" stroke-width="1.2"/>
<line x1="334.6" y1="605.0" x2="494" y2="509.6" stroke="#111" stroke-width="4.4" stroke-linecap="butt"/>
<path d="M339.2,601.0 L343.2,605.0 L339.2,609.0 L335.2,605.0 Z" fill="#e0333a" stroke="#1a0a0a" stroke-width="1.3"/>
<path d="M352.9,579.9 L356.9,583.9 L352.9,587.9 L348.9,583.9 Z" fill="#e0333a" stroke="#1a0a0a" stroke-width="1.3"/>
<path d="M366.9,581.8 L370.9,585.8 L366.9,589.8 L362.9,585.8 Z" fill="#e0333a" stroke="#1a0a0a" stroke-width="1.3"/>
<path d="M365.8,578.6 L369.8,582.6 L365.8,586.6 L361.8,582.6 Z" fill="#e0333a" stroke="#1a0a0a" stroke-width="1.3"/>
<path d="M366.2,594.8 L370.2,598.8 L366.2,602.8 L362.2,598.8 Z" fill="#e0333a" stroke="#1a0a0a" stroke-width="1.3"/>
<path d="M389.3,582.1 L393.3,586.1 L389.3,590.1 L385.3,586.1 Z" fill="#e0333a" stroke="#1a0a0a" stroke-width="1.3"/>
<path d="M393.4,568.8 L397.4,572.8 L393.4,576.8 L389.4,572.8 Z" fill="#e0333a" stroke="#1a0a0a" stroke-width="1.3"/>
<path d="M411.2,562.0 L415.2,566.0 L411.2,570.0 L407.2,566.0 Z" fill="#e0333a" stroke="#1a0a0a" stroke-width="1.3"/>
<path d="M420.4,570.5 L424.4,574.5 L420.4,578.5 L416.4,574.5 Z" fill="#e0333a" stroke="#1a0a0a" stroke-width="1.3"/>
<text x="1.86" y="17.3" font-size="16.05" font-weight="bold" fill="#111">A</text>
<text x="273.45" y="17.3" font-size="15.88" font-weight="bold" fill="#111">B</text>
<text x="1.79" y="244.2" font-size="17.66" font-weight="bold" fill="#111">C</text>
<text x="2.48" y="463.3" font-size="15.86" font-weight="bold" fill="#111">D</text>
<text x="287.43" y="463.8" font-size="15.54" font-weight="bold" fill="#111">E</text>
<text x="38.14" y="64.1" font-size="13.03" fill="#1c1c1c">Mock Infected</text>
<text x="171.87" y="64.3" font-size="12.96" fill="#1c1c1c">HIV NL4-3</text>
<text x="9.6" y="136.90" font-size="13.07" fill="#1c1c1c" transform="rotate(-90 9.6 136.90)">CD8</text>
<text x="127.00" y="201.0" font-size="12.49" fill="#1c1c1c">CD4</text>
<text x="34.10" y="87.6" font-size="12.07" fill="#1c1c1c">SP8</text>
<text x="179.54" y="88.0" font-size="12.59" fill="#1c1c1c">SP8</text>
<text x="376.53" y="16.6" font-size="13.32" fill="#1c1c1c">IFN&#945;</text>
<text x="377.61" y="32.0" font-size="12.36" fill="#1c1c1c">Mock</text>
<text x="437.57" y="8.8" font-size="13.27" fill="#1c1c1c">Ba<tspan font-size="0.75em" dx="-0.2em" dy="0.0em">-</tspan><tspan font-size="0.92em" dx="-0.05em" dy="0.16em">L</tspan></text>
<text x="437.11" y="24.3" font-size="13.01" fill="#1c1c1c">NL4-3</text>
<text x="438.03" y="39.2" font-size="12.53" fill="#1c1c1c">JD</text>
<text x="388.37" y="72.2" font-size="10.97" fill="#1c1c1c"><tspan font-style="italic">P</tspan> &lt; 0.0001</text>
<text x="388.32" y="85.5" font-size="11.37" fill="#1c1c1c"><tspan font-style="italic">R</tspan><tspan font-size="0.68em" dy="-0.36em">2</tspan><tspan dy="0.36em"> = 0.5</tspan></text>
<text x="365.55" y="227.0" font-size="13.30" fill="#1c1c1c">MHC-I MFI (DP)</text>
<text x="283.1" y="183.31" font-size="13.11" fill="#1c1c1c" transform="rotate(-90 283.1 183.31)">CD8&#945; MdFI (SP8)</text>
<text x="149.36" y="253.8" font-size="12.27" fill="#1c1c1c">mock-infected</text>
<text x="149.36" y="273.4" font-size="12.26" fill="#1c1c1c">HIV-infected</text>
<text x="240.17" y="432.4" font-size="12.73" fill="#1c1c1c">Time (sec.)</text>
<text x="289.97" y="366.5" font-size="12.71" fill="#1c1c1c"><tspan font-family="Liberation Serif" font-size="0.95em">&#916;</tspan> Ca<tspan font-size="0.66em" dy="-0.24em">2+</tspan><tspan dy="0.24em"> Peak Release</tspan></text>
<text x="120.62" y="346.7" font-size="11.71" fill="#1c1c1c">S</text>
<text x="59.0" y="355.30" font-size="14.70" fill="#1c1c1c" transform="rotate(-90 59.0 355.30)">Ca<tspan font-size="0.7em" dy="-0.33em">2+</tspan><tspan dy="0.33em"> Flux</tspan></text>
<text x="73.9" y="393.30" font-size="12.19" fill="#1c1c1c" transform="rotate(-90 73.9 393.30)">(Median INDO-1AM ratio)</text>
<text x="146.11" y="487.5" font-size="11.26" fill="#1c1c1c"><tspan font-style="italic">P</tspan> = 0.005</text>
<text x="69.0" y="622.82" font-size="12.98" fill="#1c1c1c" transform="rotate(-90 69.0 622.82)"><tspan font-family="Liberation Serif" font-size="0.95em">&#916;</tspan> Ca<tspan font-size="0.74em" dy="-0.26em">2+</tspan><tspan dy="0.26em"> Peak Release</tspan></text>
<text x="128.00" y="629.8" font-size="11.50" fill="#1c1c1c">HIV</text>
<text x="115.45" y="644.3" font-size="13.35" fill="#1c1c1c">(NL4-3)</text>
<text x="122.24" y="659.8" font-size="13.02" fill="#1c1c1c">(n=9)</text>
<text x="184.49" y="629.8" font-size="12.75" fill="#1c1c1c">Mock or</text>
<text x="175.33" y="644.3" font-size="13.09" fill="#1c1c1c">NL4-3/3TC</text>
<text x="189.36" y="659.8" font-size="13.02" fill="#1c1c1c">(n=5)</text>
<text x="365.67" y="472.5" font-size="12.92" fill="#1c1c1c">HIV (NL4-3)</text>
<text x="365.68" y="489.8" font-size="12.97" fill="#1c1c1c">Mock or HIV NL4-3/3TC</text>
<text x="348.38" y="531.6" font-size="11.04" fill="#1c1c1c"><tspan font-style="italic">P</tspan> = 0.0001</text>
<text x="348.35" y="545.0" font-size="11.56" fill="#1c1c1c"><tspan font-style="italic">R</tspan><tspan font-size="0.68em" dy="-0.36em">2</tspan><tspan dy="0.36em"> = 0.7</tspan></text>
<text x="302.3" y="593.66" font-size="13.28" fill="#1c1c1c" transform="rotate(-90 302.3 593.66)">CD8&#945; MdFI</text>
<text x="346.39" y="645.2" font-size="12.69" fill="#1c1c1c"><tspan font-family="Liberation Serif" font-size="0.95em">&#916;</tspan> Ca<tspan font-size="0.76em" dy="-0.2em">2+</tspan><tspan dy="0.2em"> Peak Release</tspan></text>
</svg></body></html>
